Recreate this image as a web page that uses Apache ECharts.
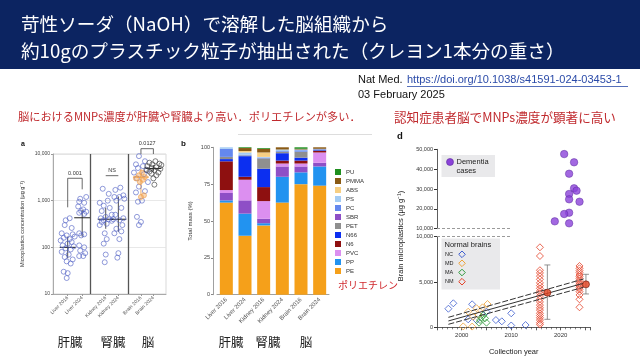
<!DOCTYPE html>
<html><head><meta charset="utf-8">
<script src="https://cdn.jsdelivr.net/npm/echarts@6/dist/echarts.min.js"></script>
<style>html,body{margin:0;padding:0;background:#fff}#c{width:640px;height:360px}</style>
</head><body><div id="c"></div>
<script>
// ---------- Panel a: concentrations (ug/g) ----------
const catsA = ['Liver 2016','Liver 2024','Kidney 2016','Kidney 2024','Brain 2016','Brain 2024'];
const liver2016 = [420,380,300,260,200,190,180,170,160,150,140,130,120,110,105,95,90,80,70,62,55,50,45,30,28,22];
const liver2016Jit = [2,-2,-3,4,-6,5,-1,7,-4,2,-7,4,0,-5,6,-2,3,-6,1,-3,5,-1,3,-4,0,-1];
const liver2024 = [1200,1100,950,900,750,650,600,580,550,520,200,190,180,110,100,85,75,65,65];
const liver2024Jit = [4,-2,-3,2,-4,1,-1,4,-3,2,-3,2,-1,-3,2,-2,3,-3,1];
const kidney2016 = [1800,1400,1000,900,780,700,600,500,450,420,400,380,370,350,320,300,200,150,120,70,48];
const kidney2016Jit = [-3,3,2,-6,-2,4,-4,6,0,-5,3,-2,6,-4,1,-6,-1,1,-2,0,-1];
const kidney2024 = [1900,1700,1300,1200,1200,1100,1000,700,500,420,400,380,300,250,220,200,150,75,60];
const kidney2024Jit = [2,-3,5,-4,1,6,-2,3,-3,5,-5,1,4,-2,3,-4,1,0,-1];
const brain2016Blue = [9000,7000,6000,5500,5000,4500,4000,3700,3000,2500,2000,1600,1500,1000,950,450,350,300];
const brain2016BlueJit = [-2,4,-5,2,-3,6,-7,3,-4,7,-2,4,-5,1,-3,-4,0,-2];
const brain2016Orange = [4000,3500,3200,3000,2800,2500,1300,1200];
const brain2016OrangeJit = [1,-2,4,-5,2,-1,3,0];
const brain2024 = [7000,6500,6200,6000,5800,5500,5200,5000,4800,4600,4500,4200,4000,3800,3500,3000,2200];
const brain2024Jit = [2,-4,6,-1,8,-6,3,-2,7,-7,1,-4,5,-2,3,0,1];
const medianA = [100,430,400,400,3200,4900];
const lowA = [58,170,250,215,1300,4200];
const highA = [170,630,700,1230,4800,5800];
const sigLabels = ['0.001','NS','0.0127'];
const sigTop = [3020,3430,13000];
const sigLegL = [720,null,10000];
const sigLegR = [1750,null,10000];

// ---------- Panel b: polymer composition (%) ----------
const catsB = ['Liver 2016','Liver 2024','Kidney 2016','Kidney 2024','Brain 2016','Brain 2024'];
const polymers = ['PE','PP','SBR','PVC','N6','N66','PET','PC','PS','ABS','PMMA','PU'];
const legendOrderB = ['PU','PMMA','ABS','PS','PC','SBR','PET','N66','N6','PVC','PP','PE'];
const PE   = [62.5,40,47,62.5,75,74];
const PP   = [1.5,15,1.5,17.5,8,13];
const SBR  = [5,9,3,7,4,2.5];
const PVC  = [2,14,12,2,2,7];
const N6   = [19.5,2,9.5,2,2,1];
const N66  = [1.5,14,12.5,5,2,0.5];
const PET  = [1.5,0.5,7,1,4,0.5];
const PC   = [5.5,0.5,0.5,0.5,1,0.5];
const PS   = [1,1.5,0.5,1,0.5,0];
const ABS  = [0,1,3,0,0,0];
const PMMA = [0,2,2.5,1.5,0.5,1];
const PU   = [0,0.5,0.5,0,1,0];
const polyColors = {PE:'#f5a01a',PP:'#2293f0',SBR:'#8e4fc6',PVC:'#dc8ff0',N6:'#8e1010',N66:'#0c2ff0',PET:'#8f8f8f',PC:'#6488ee',PS:'#a3ccf4',ABS:'#f7cf82',PMMA:'#8a5a14',PU:'#1f8f1f'};
const polyData = {PE,PP,SBR,PVC,N6,N66,PET,PC,PS,ABS,PMMA,PU};

// ---------- Panel d: brain microplastics vs collection year ----------
const demYear = [2020.7,2022.7,2021.7,2022.7,2023.2,2021.7,2021.7,2023.8,2021.7,2020.7,2018.8,2021.7];
const demVal  = [47600,43450,37700,30350,29150,27500,24800,23600,18060,17400,13700,12700];
const ncYear = [1997.3,1998.3,2002.1,2001.3,2003.0,2005.0,2006.9,2008.1,2010.0,2010.0,2012.9];
const ncVal  = [2050,2650,2540,880,800,1720,800,660,1545,200,250];
const mdYear = [2001.3,2000.3,2002.1,2003.0,2003.4,2005.2,2004.2,2002.3];
const mdVal  = [1720,100,80,2100,1360,2570,2200,1170];
const maYear = [2004.0,2004.4,2003.7,2005.0,2003.5,2004.7];
const maVal  = [1100,1360,800,510,510,990];
const nmYears = [2015.8,2023.8];
const nm2016 = [8830,7870,6300,6000,5650,5300,4900,4600,4300,4000,3750,3450,3100,2800,2450,2150,1900,1550,1300,1050,800,500,300];
const nm2024 = [6770,6510,6250,6030,5770,5590,5370,5150,4920,4740,4560,4370,4190,3930,3570,3090,2210];
const nmMeanYear = [2017.3,2025.1];
const nmMean = [3820,4740];
const nmLow  = [880,3680];
const nmHigh = [6880,5850];
const regYears = [1997.3,2024.6];
const regUpper = [1100,5330];
const regFit   = [700,4860];
const regLower = [330,4415];

// ---------- layout constants ----------
const catPosA = [0.78,1.55,2.8,3.47,4.67,5.33];
const PXU = 18.83; // px per unit on panel a x axis
const fmt = v => Number(v).toLocaleString('en-US');
const JP = '"Noto Sans CJK JP", sans-serif';
const LAT = '"Liberation Sans", Arial, sans-serif';

function jitterSeries(vals, jit, ci){ return vals.map((v,i)=>[catPosA[ci] + jit[i]/PXU, v]); }

const blueA = [].concat(
  jitterSeries(liver2016, liver2016Jit, 0),
  jitterSeries(liver2024, liver2024Jit, 1),
  jitterSeries(kidney2016, kidney2016Jit, 2),
  jitterSeries(kidney2024, kidney2024Jit, 3),
  jitterSeries(brain2016Blue, brain2016BlueJit, 4));
const orangeA = jitterSeries(brain2016Orange, brain2016OrangeJit, 4);
const grayA = jitterSeries(brain2024, brain2024Jit, 5);

const chart = echarts.init(document.getElementById('c'), null, {renderer:'canvas'});

const series = [];
series.push({
  type:'scatter', name:'aBlue', xAxisIndex:0, yAxisIndex:0, data: blueA, symbolSize:5,
  itemStyle:{color:'rgba(0,0,0,0)', borderColor:'#5262c4', borderWidth:0.8}, silent:true,
  markLine:{silent:true, symbol:'none', label:{show:false}, lineStyle:{color:'#555', width:1.3, type:'solid'},
    data:[{xAxis:2},{xAxis:4}]}
});
series.push({type:'scatter', name:'aOrange', xAxisIndex:0, yAxisIndex:0, data: orangeA, symbolSize:5,
  itemStyle:{color:'rgba(243,165,80,0.55)', borderColor:'#f0a050', borderWidth:0.8}, silent:true});
series.push({type:'scatter', name:'aGray', xAxisIndex:0, yAxisIndex:0, data: grayA, symbolSize:5,
  itemStyle:{color:'rgba(0,0,0,0)', borderColor:'#3a3a3a', borderWidth:0.8}, silent:true});
series.push({
  type:'custom', name:'aMed', xAxisIndex:0, yAxisIndex:0, silent:true,
  data: medianA.map((m,i)=>[catPosA[i], m, lowA[i], highA[i], i]),
  renderItem:(params, api)=>{
    const x = api.value(0), m = api.value(1), lo = api.value(2), hi = api.value(3), i = api.value(4);
    const pm = api.coord([x,m]), pl = api.coord([x,lo]), ph = api.coord([x,hi]);
    const col = i===4 ? '#e8963a' : '#222';
    return {type:'group', children:[
      {type:'line', shape:{x1:pm[0]-8,y1:pm[1],x2:pm[0]+8,y2:pm[1]}, style:{stroke:col, lineWidth:1}},
      {type:'line', shape:{x1:pl[0],y1:pl[1],x2:ph[0],y2:ph[1]}, style:{stroke:col, lineWidth:0.8}}
    ]};
  }
});
series.push({
  type:'custom', name:'aSig', xAxisIndex:0, yAxisIndex:0, silent:true, clip:false,
  data: sigLabels.map((s,k)=>[catPosA[2*k], catPosA[2*k+1], sigTop[k], sigLegL[k]==null?sigTop[k]:sigLegL[k], sigLegR[k]==null?sigTop[k]:sigLegR[k], k]),
  renderItem:(params, api)=>{
    const x1=api.value(0), x2=api.value(1), t=api.value(2), l=api.value(3), r=api.value(4), k=api.value(5);
    const a=api.coord([x1,l]), b=api.coord([x1,t]), c=api.coord([x2,t]), d=api.coord([x2,r]);
    return {type:'group', children:[
      {type:'polyline', shape:{points:[a,b,c,d]}, style:{stroke:'#444', lineWidth:0.8, fill:null}},
      {type:'text', x:(b[0]+c[0])/2, y:b[1]-5, style:{text:sigLabels[k], fill:'#333', fontSize:5.5, fontFamily:LAT, textAlign:'center', textVerticalAlign:'middle'}}
    ]};
  }
});

// panel b bars
polymers.forEach(p=>{
  series.push({type:'bar', name:p, stack:'b', xAxisIndex:1, yAxisIndex:1, barWidth:13, data: polyData[p],
    itemStyle:{color: polyColors[p]}, silent:true});
});

// panel d
series.push({type:'scatter', name:'Dementia', xAxisIndex:2, yAxisIndex:2, data: demYear.map((y,i)=>[y, demVal[i]]),
  symbolSize:7.5, itemStyle:{color:'#8b42d9', borderColor:'#5a2a9c', borderWidth:0.6}, silent:true,
  markLine:{silent:true, symbol:'none', label:{show:false}, lineStyle:{color:'#9a9a9a', width:1, type:[3,2]},
    data:[[{coord:[1995,10000]},{coord:[2009.8,10000]}]]}
});
const diamondStyle = c => ({color:'rgba(0,0,0,0)', borderColor:c, borderWidth:1});
series.push({type:'scatter', name:'NC', xAxisIndex:3, yAxisIndex:3, data: ncYear.map((y,i)=>[y,ncVal[i]]), symbol:'diamond', symbolSize:[7,7], itemStyle:diamondStyle('#3f5fd0'), silent:true,
  markLine:{silent:true, symbol:'none', label:{show:false}, lineStyle:{color:'#9a9a9a', width:1, type:[3,2]},
    data:[[{coord:[1995,10000]},{coord:[2009.8,10000]}]]}});
series.push({type:'scatter', name:'MD', xAxisIndex:3, yAxisIndex:3, data: mdYear.map((y,i)=>[y,mdVal[i]]), symbol:'diamond', symbolSize:[7,7], itemStyle:diamondStyle('#eea33a'), silent:true});
series.push({type:'scatter', name:'MA', xAxisIndex:3, yAxisIndex:3, data: maYear.map((y,i)=>[y,maVal[i]]), symbol:'diamond', symbolSize:[7,7], itemStyle:diamondStyle('#2f9a3c'), silent:true});
series.push({type:'scatter', name:'NM', xAxisIndex:3, yAxisIndex:3,
  data: nm2016.map(v=>[nmYears[0], v]).concat(nm2024.map(v=>[nmYears[1], v])),
  symbol:'diamond', symbolSize:[7,7], itemStyle:diamondStyle('#e5432a'), silent:true});
[[regUpper,[6,2]],[regFit,'solid'],[regLower,[6,2]]].forEach(([arr,type],k)=>{
  series.push({type:'line', name:'reg'+k, xAxisIndex:3, yAxisIndex:3, data: regYears.map((y,i)=>[y, arr[i]]),
    symbol:'none', lineStyle:{color:'#333', width:1, type:type}, silent:true});
});
series.push({
  type:'custom', name:'nmErr', xAxisIndex:3, yAxisIndex:3, silent:true, clip:false,
  data: nmMeanYear.map((y,i)=>[y, nmLow[i], nmHigh[i]]),
  renderItem:(params, api)=>{
    const x=api.value(0); const lo=api.coord([x,api.value(1)]), hi=api.coord([x,api.value(2)]);
    return {type:'group', children:[
      {type:'line', shape:{x1:lo[0],y1:lo[1],x2:hi[0],y2:hi[1]}, style:{stroke:'#777', lineWidth:0.8}},
      {type:'line', shape:{x1:lo[0]-3,y1:lo[1],x2:lo[0]+3,y2:lo[1]}, style:{stroke:'#777', lineWidth:0.8}},
      {type:'line', shape:{x1:hi[0]-3,y1:hi[1],x2:hi[0]+3,y2:hi[1]}, style:{stroke:'#777', lineWidth:0.8}}
    ]};
  }
});
series.push({type:'scatter', name:'NMmean', xAxisIndex:3, yAxisIndex:3, data: nmMeanYear.map((y,i)=>[y,nmMean[i]]),
  symbolSize:7, itemStyle:{color:'#e23e1c', borderColor:'#6e1508', borderWidth:0.8}, silent:true, z:5});

const axisGray = {lineStyle:{color:'#999', width:0.8}};
const axisDark = {lineStyle:{color:'#333', width:0.8}};

function txt(text, x, y, size, fill, extra){
  return Object.assign({type:'text', x:x, y:y, silent:true, style:Object.assign({text:text, fill:fill, fontSize:size, fontFamily:LAT, textVerticalAlign:'middle'}, extra||{})});
}
function diamond(cx, cy, r, color){
  return {type:'polygon', silent:true, shape:{points:[[cx,cy-r],[cx+r,cy],[cx,cy+r],[cx-r,cy]]}, style:{fill:null, stroke:color, lineWidth:1}};
}

const graphics = [
  {type:'rect', silent:true, shape:{x:0,y:0,width:640,height:69}, style:{fill:'#0c2461'}, z:0},
  txt('苛性ソーダ（NaOH）で溶解した脳組織から', 21, 24, 18.6, '#ffffff', {fontFamily:JP}),
  txt('約10gのプラスチック粒子が抽出された（クレヨン1本分の重さ）', 21, 51, 18.6, '#ffffff', {fontFamily:JP}),
  txt('Nat Med.', 358, 80, 11, '#111'),
  txt('https://doi.org/10.1038/s41591-024-03453-1', 407, 80, 11, '#2a4aa8'),
  {type:'line', silent:true, shape:{x1:407,y1:86.5,x2:628,y2:86.5}, style:{stroke:'#2a4aa8', lineWidth:0.8}},
  txt('03 February 2025', 358, 95, 11, '#111'),
  txt('脳におけるMNPs濃度が肝臓や腎臓より高い．ポリエチレンが多い．', 18, 116.5, 11.2, '#c02a2e', {fontFamily:JP}),
  txt('認知症患者脳でMNPs濃度が顕著に高い', 394, 117, 12.6, '#c02a2e', {fontFamily:JP}),
  {type:'line', silent:true, shape:{x1:238,y1:134.5,x2:372,y2:134.5}, style:{stroke:'#dddddd', lineWidth:1}},
  txt('a', 21, 144, 7, '#111', {fontWeight:'bold'}),
  txt('b', 181, 144, 8, '#111', {fontWeight:'bold'}),
  txt('d', 397, 136, 9.5, '#111', {fontWeight:'bold'}),
  txt('ポリエチレン', 338, 285, 10, '#d0282d', {fontFamily:JP}),
  txt('肝臓', 70, 342, 12.5, '#222', {fontFamily:JP, textAlign:'center'}),
  txt('腎臓', 113, 342, 12.5, '#222', {fontFamily:JP, textAlign:'center'}),
  txt('脳', 148, 342, 12.5, '#222', {fontFamily:JP, textAlign:'center'}),
  txt('肝臓', 231, 342, 12.5, '#222', {fontFamily:JP, textAlign:'center'}),
  txt('腎臓', 268, 342, 12.5, '#222', {fontFamily:JP, textAlign:'center'}),
  txt('脳', 306, 342, 12.5, '#222', {fontFamily:JP, textAlign:'center'}),
  {type:'text', silent:true, x:401, y:236, rotation:Math.PI/2, style:{text:'Brain microplastics (μg g⁻¹)', fill:'#222', fontSize:7.5, fontFamily:LAT, textAlign:'center', textVerticalAlign:'middle'}},
  // legend boxes panel d
  {type:'rect', silent:true, shape:{x:441.5,y:155,width:53.5,height:22}, style:{fill:'#e9e9eb'}},
  {type:'circle', silent:true, shape:{cx:450,cy:162,r:3.5}, style:{fill:'#8b42d9', stroke:'#5a2a9c', lineWidth:0.6}},
  txt('Dementia', 456.5, 162, 7.5, '#222'),
  txt('cases', 456.5, 171, 7.5, '#222'),
  {type:'rect', silent:true, shape:{x:441.5,y:238.5,width:58.5,height:51}, style:{fill:'#e9e9eb'}},
  txt('Normal brains', 444.5, 245, 7.5, '#222'),
  txt('NC', 445, 254.3, 5.5, '#222'), diamond(462, 254.3, 3.3, '#3f5fd0'),
  txt('MD', 445, 263.3, 5.5, '#222'), diamond(462, 263.3, 3.3, '#eea33a'),
  txt('MA', 445, 272.5, 5.5, '#222'), diamond(462, 272.5, 3.3, '#2f9a3c'),
  txt('NM', 445, 281.7, 5.5, '#222'), diamond(462, 281.7, 3.3, '#e5432a')
];

const option = {
  animation:false,
  backgroundColor:'#ffffff',
  textStyle:{fontFamily:LAT},
  grid:[
    {left:53, top:154, width:113, height:140, show:true, borderColor:'#cfcfcf', borderWidth:0.8},
    {left:217, top:147.3, width:112, height:147.4},
    {left:437, top:149.3, width:153.4, height:79.4},
    {left:437, top:236.7, width:153.4, height:90.6}
  ],
  legend:{
    data: legendOrderB, orient:'vertical', left:335, top:169, itemWidth:6, itemHeight:6, itemGap:3,
    padding:0, icon:'rect', selectedMode:false, textStyle:{fontSize:6, color:'#333', lineHeight:6, fontFamily:LAT}
  },
  xAxis:[
    {type:'value', gridIndex:0, min:0, max:6, splitLine:{show:false}, axisLine:axisGray,
      axisTick:{show:true, customValues:catPosA, length:2, lineStyle:{color:'#999'}},
      axisLabel:{customValues:catPosA, rotate:45, fontSize:5, color:'#555', margin:3,
        formatter:(v)=>{let bi=0,bd=1e9;catPosA.forEach((p,i)=>{const d=Math.abs(p-v);if(d<bd){bd=d;bi=i;}});return catsA[bi];}}},
    {type:'category', gridIndex:1, data:catsB, axisLine:{lineStyle:{color:'#888', width:0.8}},
      axisTick:{alignWithLabel:true, length:2, lineStyle:{color:'#888'}},
      axisLabel:{rotate:45, fontSize:6, color:'#555', margin:4}},
    {type:'value', gridIndex:2, min:1995, max:2026, show:false},
    {type:'value', gridIndex:3, min:1995, max:2026, interval:5, splitLine:{show:false}, axisLine:axisDark,
      axisTick:{length:3, lineStyle:{color:'#333', width:0.8}},
      minorTick:{show:true, splitNumber:5, length:2, lineStyle:{color:'#333', width:0.6}},
      axisLabel:{fontSize:6, color:'#333', margin:5, formatter:v=> (v%10===0 ? String(v) : '')},
      name:'Collection year', nameLocation:'middle', nameGap:21, nameTextStyle:{fontSize:7.5, color:'#222'}}
  ],
  yAxis:[
    {type:'log', gridIndex:0, logBase:10, min:10, max:10000, axisLine:{show:true, lineStyle:{color:'#999', width:0.8}},
      axisTick:{show:true, length:2, lineStyle:{color:'#999'}}, splitLine:{lineStyle:{color:'#e2e2e2', width:0.8}},
      axisLabel:{fontSize:5, color:'#444', margin:3, formatter:fmt},
      name:'Microplastics concentration (μg g⁻¹)', nameLocation:'middle', nameGap:28, nameTextStyle:{fontSize:5.5, color:'#333'}},
    {type:'value', gridIndex:1, min:0, max:100, interval:25, offset:4, splitLine:{show:false},
      axisLine:{show:true, lineStyle:{color:'#888', width:0.8}}, axisTick:{show:true, length:2, lineStyle:{color:'#888'}},
      axisLabel:{fontSize:5.5, color:'#444', margin:3},
      name:'Total mass (%)', nameLocation:'middle', nameGap:20, nameTextStyle:{fontSize:6, color:'#333'}},
    {type:'value', gridIndex:2, min:10000, max:50000, interval:10000, splitLine:{show:false},
      axisLine:{show:true, lineStyle:{color:'#333', width:0.8}}, axisTick:{show:true, length:3, lineStyle:{color:'#333'}},
      axisLabel:{fontSize:5.5, color:'#333', margin:4, formatter:fmt}},
    {type:'value', gridIndex:3, min:0, max:10000, interval:5000, splitLine:{show:false},
      axisLine:{show:true, lineStyle:{color:'#333', width:0.8}}, axisTick:{show:true, length:3, lineStyle:{color:'#333'}},
      axisLabel:{fontSize:5.5, color:'#333', margin:4, formatter:fmt}}
  ],
  series: series,
  graphic:{elements: graphics}
};
chart.setOption(option);
</script></body></html>
